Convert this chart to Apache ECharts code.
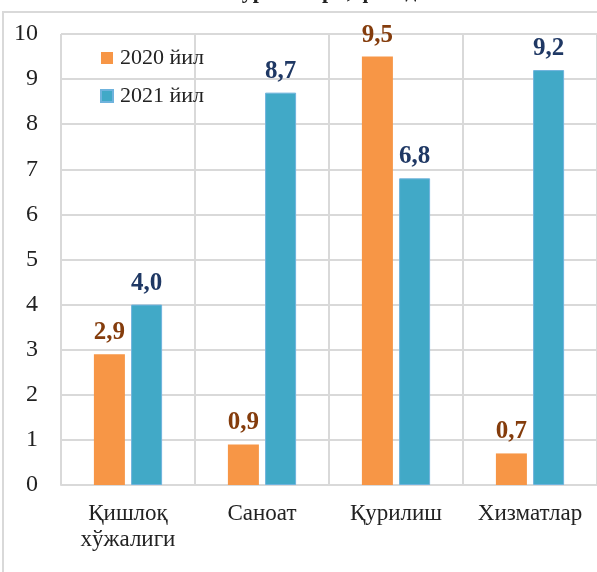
<!DOCTYPE html>
<html>
<head>
<meta charset="utf-8">
<script src="https://cdn.jsdelivr.net/npm/echarts@6/dist/echarts.min.js"></script>
<style>
  html, body { margin: 0; padding: 0; background: #fff; }
  #main { width: 597px; height: 572px; }
</style>
</head>
<body>
<div id="main"></div>
<script>
var categories = ["Қишлоқ\nхўжалиги", "Саноат", "Қурилиш", "Хизматлар"];
var values2020 = [2.9, 0.9, 9.5, 0.7];
var values2021 = [4.0, 8.7, 6.8, 9.2];
var seriesNames = ["2020 йил", "2021 йил"];

var serif = "'Liberation Serif', 'Times New Roman', serif";

var myChart = echarts.init(document.getElementById("main"));

// 9.5 -> "9,5"
function fmt(p) {
  return p.value.toFixed(1).replace(".", ",");
}

myChart.setOption({
  animation: false,
  title: {
    text: "Ўсиш суръатлари, фоизда",
    left: "center",
    top: -24,
    textStyle: { fontFamily: serif, fontSize: 22, fontWeight: "bold", color: "#222" }
  },
  graphic: [
    {
      type: "rect",
      shape: { x: 3, y: 12, width: 600, height: 600 },
      style: { fill: "none", stroke: "#d9d9d9", lineWidth: 2 },
      z: -10
    }
  ],
  legend: {
    orient: "vertical",
    left: 95,
    top: 42,
    itemWidth: 12,
    itemHeight: 12,
    itemGap: 16,
    icon: "rect",
    textStyle: { fontFamily: serif, fontSize: 22, color: "#222", padding: [0, 0, 0, 2] },
    data: seriesNames
  },
  grid: { left: 61, right: 0, top: 34, bottom: 87, containLabel: false },
  xAxis: {
    type: "category",
    data: categories,
    axisLine: { lineStyle: { color: "#d9d9d9", width: 2 } },
    axisTick: { show: false },
    splitLine: { show: true, lineStyle: { color: "#d9d9d9", width: 2 } },
    axisLabel: {
      fontFamily: serif, fontSize: 23, color: "#222",
      margin: 16, lineHeight: 26, interval: 0
    }
  },
  yAxis: {
    type: "value",
    min: 0,
    max: 10,
    interval: 1,
    axisLine: { show: false },
    axisTick: { show: false },
    splitLine: { lineStyle: { color: "#d9d9d9", width: 2 } },
    axisLabel: { fontFamily: serif, fontSize: 24, color: "#222", margin: 23 }
  },
  series: [
    {
      name: seriesNames[0],
      type: "bar",
      data: values2020,
      barWidth: 31,
      barGap: "20%",
      itemStyle: { color: "#f79646" },
      label: {
        show: true, position: "top", distance: 9, formatter: fmt,
        fontFamily: serif, fontSize: 25, fontWeight: "bold", color: "#843c0c"
      }
    },
    {
      name: seriesNames[1],
      type: "bar",
      data: values2021,
      barWidth: 31,
      itemStyle: { color: "#41a9c7", borderColor: "#6fb3dd", borderWidth: 1 },
      label: {
        show: true, position: "top", distance: 9, formatter: fmt,
        fontFamily: serif, fontSize: 25, fontWeight: "bold", color: "#1f3864"
      }
    }
  ]
});
</script>
</body>
</html>
